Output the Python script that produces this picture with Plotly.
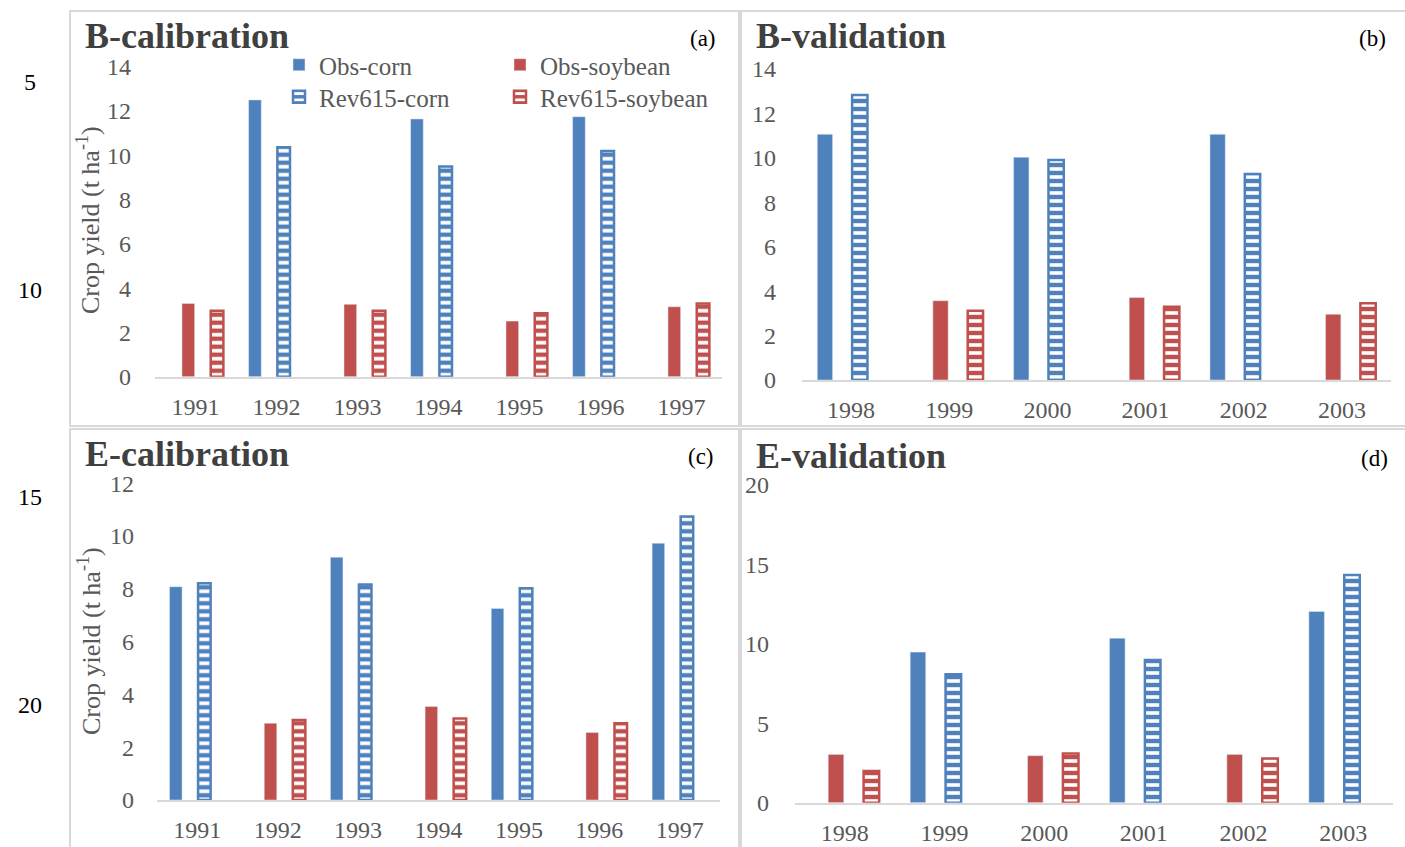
import plotly.graph_objects as go

# ---------------- data ----------------
years_cal = ["1991", "1992", "1993", "1994", "1995", "1996", "1997"]
years_val = ["1998", "1999", "2000", "2001", "2002", "2003"]

# (a) B-calibration
a_obs_corn = [None, 12.5, None, 11.64, None, 11.74, None]
a_obs_soy = [3.31, None, 3.27, None, 2.51, None, 3.16]
a_rev_corn = [None, 10.36, None, 9.49, None, 10.19, None]
a_rev_soy = [2.98, None, 2.98, None, 2.86, None, 3.31]

# (b) B-validation
b_obs_corn = [11.06, None, 10.03, None, 11.06, None]
b_obs_soy = [None, 3.57, None, 3.71, None, 2.96]
b_rev_corn = [12.83, None, 9.9, None, 9.27, None]
b_rev_soy = [None, 3.12, None, 3.3, None, 3.45]

# (c) E-calibration
c_obs_corn = [8.08, None, 9.2, None, 7.26, None, 9.73]
c_obs_soy = [None, 2.91, None, 3.54, None, 2.56, None]
c_rev_corn = [8.21, None, 8.17, None, 8.02, None, 10.74]
c_rev_soy = [None, 3.03, None, 3.09, None, 2.91, None]

# (d) E-validation
d_obs_corn = [None, 9.48, None, 10.36, None, 12.04]
d_obs_soy = [3.04, None, 2.96, None, 3.04, None]
d_rev_corn = [None, 8.09, None, 8.99, None, 14.34]
d_rev_soy = [1.99, None, 3.1, None, 2.79, None]

series_names = ["Obs-corn", "Obs-soybean", "Rev615-corn", "Rev615-soybean"]
panel_titles = ["B-calibration", "B-validation", "E-calibration", "E-validation"]
panel_tags = ["(a)", "(b)", "(c)", "(d)"]
y_ranges = [[0, 14], [0, 14], [0, 12], [0, 20]]
y_dticks = [2, 2, 2, 5]
line_numbers = ["5", "10", "15", "20"]

# ---------------- style ----------------
W, H = 1405, 847
BLUE = "#4f81bd"
RED = "#c0504d"
GRAY = "#595959"
DARK = "#404040"
BORDER = "#d9d9d9"
FONT = "Liberation Serif"


def px(x):
    return x / W


def py(y):
    return 1 - y / H


fig = go.Figure()

panels = [
    (years_cal, [a_obs_corn, a_obs_soy, a_rev_corn, a_rev_soy]),
    (years_val, [b_obs_corn, b_obs_soy, b_rev_corn, b_rev_soy]),
    (years_cal, [c_obs_corn, c_obs_soy, c_rev_corn, c_rev_soy]),
    (years_val, [d_obs_corn, d_obs_soy, d_rev_corn, d_rev_soy]),
]
colors = [BLUE, RED, BLUE, RED]
hatched = [False, False, True, True]
legend_ids = ["legend", "legend2", "legend3", "legend4"]

for p, (cats, series) in enumerate(panels):
    ax = "" if p == 0 else str(p + 1)
    for s, vals in enumerate(series):
        col = colors[s]
        marker = dict(color=col)
        if hatched[s]:
            marker = dict(
                color=col,
                line=dict(color=col, width=2.5),
                pattern=dict(shape="-", fgcolor="white", bgcolor=col,
                             fgopacity=1, size=8, solidity=0.45),
            )
        fig.add_trace(go.Bar(
            x=cats, y=vals, name=series_names[s], marker=marker,
            xaxis="x" + ax, yaxis="y" + ax,
            showlegend=(p == 0), legend=legend_ids[s],
            legendgroup=series_names[s],
        ))

# axis domains (in pixels of the 1405x847 page)
x_dom_px = [(155, 722), (802, 1391), (157, 720), (795, 1393)]
y_dom_px = [(376.7, 66.7), (380, 69), (800, 483.3), (802.7, 485)]
ystand = [23, 25, 22, 25]

layout_axes = {}
for p in range(4):
    ax = "" if p == 0 else str(p + 1)
    x0, x1 = x_dom_px[p]
    yb, yt = y_dom_px[p]
    layout_axes["xaxis" + ax] = dict(
        domain=[px(x0), px(x1)], anchor="y" + ax, type="category",
        showline=True, linecolor=BORDER, linewidth=2, ticks="",
        showgrid=False, zeroline=False, automargin=False,
        tickfont=dict(family=FONT, size=24, color=GRAY),
        ticklabelstandoff=7, fixedrange=True,
    )
    layout_axes["yaxis" + ax] = dict(
        domain=[py(yb), py(yt)], anchor="x" + ax, range=y_ranges[p],
        dtick=y_dticks[p], tick0=0, showline=False, showgrid=False,
        zeroline=False, ticks="", automargin=False,
        tickfont=dict(family=FONT, size=24, color=GRAY),
        ticklabelstandoff=ystand[p], fixedrange=True,
    )

# panel frames
frames_px = [(70, 11, 739, 426), (741, 11, 1410, 426),
             (70, 429, 739, 860), (741, 429, 1410, 860)]
shapes = []
for (x0, y0, x1, y1) in frames_px:
    shapes.append(dict(type="rect", xref="paper", yref="paper",
                       x0=px(x0), x1=px(x1), y0=py(y1), y1=py(y0),
                       line=dict(color=BORDER, width=2), layer="below"))

annotations = []
title_pos = [(83, 36), (754, 36), (83, 454), (754, 456)]
tag_pos = [(718, 38), (1388, 38), (716, 456), (1390, 458)]
for p in range(4):
    tx, ty = title_pos[p]
    annotations.append(dict(
        text="<b>" + panel_titles[p] + "</b>", x=px(tx), y=py(ty),
        xref="paper", yref="paper", xanchor="left", yanchor="middle",
        showarrow=False, font=dict(family=FONT, size=36, color=DARK)))
    gx, gy = tag_pos[p]
    annotations.append(dict(
        text=panel_tags[p], x=px(gx), y=py(gy), xref="paper", yref="paper",
        xanchor="right", yanchor="middle", showarrow=False,
        font=dict(family=FONT, size=23, color="black")))

# y-axis titles for left panels
for (cx, cy) in [(89, 220), (89, 641)]:
    annotations.append(dict(
        text="Crop yield (t ha<sup>-1</sup>)", x=px(cx), y=py(cy),
        xref="paper", yref="paper", xanchor="center", yanchor="middle",
        textangle=-90, showarrow=False,
        font=dict(family=FONT, size=26, color=GRAY)))

# manuscript line numbers
for t, (lx, ly) in zip(line_numbers, [(30, 82), (30, 290), (30, 497), (30, 705)]):
    annotations.append(dict(
        text=t, x=px(lx), y=py(ly), xref="paper", yref="paper",
        xanchor="center", yanchor="middle", showarrow=False,
        font=dict(family=FONT, size=24, color="black")))

legend_common = dict(
    orientation="v", xanchor="left", yanchor="middle",
    bgcolor="rgba(0,0,0,0)", borderwidth=0,
    font=dict(family=FONT, size=25, color=GRAY),
    tracegroupgap=0, itemwidth=30,
)

fig.update_layout(
    width=W, height=H, margin=dict(l=0, r=0, t=0, b=0, autoexpand=False),
    paper_bgcolor="white", plot_bgcolor="white",
    barmode="group", bargap=0.29, bargroupgap=0.12,
    showlegend=True,
    legend=dict(x=px(279), y=py(65), **legend_common),
    legend2=dict(x=px(500), y=py(65), **legend_common),
    legend3=dict(x=px(279), y=py(97), **legend_common),
    legend4=dict(x=px(500), y=py(97), **legend_common),
    shapes=shapes, annotations=annotations,
    **layout_axes,
)

fig.write_html("out.html", config={"responsive": False, "displayModeBar": False},
               post_script="document.body.style.margin='0px';")
